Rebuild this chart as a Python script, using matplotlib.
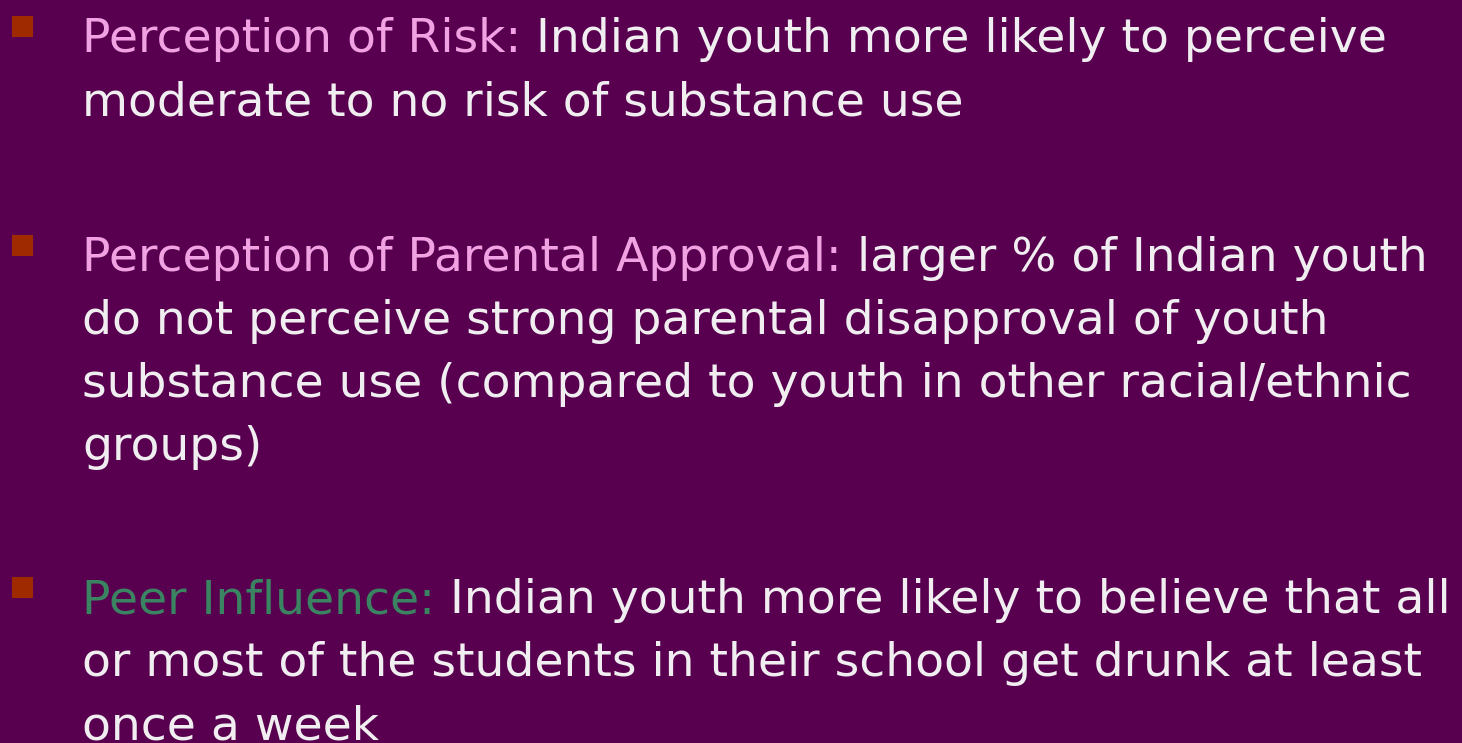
import matplotlib
matplotlib.use("Agg")
import matplotlib.pyplot as plt
from matplotlib.patches import Rectangle

W, H = 1462, 743
BG = "#58004f"
PINK = "#f0a2e2"
GREEN = "#3a8462"
WHITE = "#f0eef0"
BULLET = "#a02a00"

# each bullet: heading, heading colour, lines (first line continues after heading)
headings = ["Perception of Risk:", "Perception of Parental Approval:", "Peer Influence:"]
heading_colors = [PINK, PINK, GREEN]
bodies = [
    [" Indian youth more likely to perceive",
     "moderate to no risk of substance use"],
    [" larger % of Indian youth",
     "do not perceive strong parental disapproval of youth",
     "substance use (compared to youth in other racial/ethnic",
     "groups)"],
    [" Indian youth more likely to believe that all",
     "or most of the students in their school get drunk at least",
     "once a week"],
]
first_baselines = [52, 271, 613]  # px from top
line_step = 63
text_x = 82
fs = 34

fig = plt.figure(figsize=(W / 100, H / 100), dpi=100, facecolor=BG)
fig.patch.set_facecolor(BG)
plt.rcParams["font.family"] = ["DejaVu Sans"]


def px(x, y):
    return x / W, 1 - y / H


fig.canvas.draw()
renderer = fig.canvas.get_renderer()

for head, hcol, lines, yb in zip(headings, heading_colors, bodies, first_baselines):
    # bullet square
    fig.patches.append(Rectangle(px(12, yb - 15), 21 / W, 21 / H,
                                 transform=fig.transFigure, facecolor=BULLET,
                                 edgecolor="none"))
    t = fig.text(*px(text_x, yb), head, color=hcol, fontsize=fs,
                 va="baseline", ha="left")
    bb = t.get_window_extent(renderer=renderer)
    fig.text(bb.x1 / W, 1 - yb / H, lines[0], color=WHITE, fontsize=fs,
             va="baseline", ha="left")
    for i, ln in enumerate(lines[1:], start=1):
        fig.text(*px(text_x, yb + i * line_step), ln, color=WHITE, fontsize=fs,
                 va="baseline", ha="left")

fig.savefig("out.png", dpi=100, facecolor=BG)
